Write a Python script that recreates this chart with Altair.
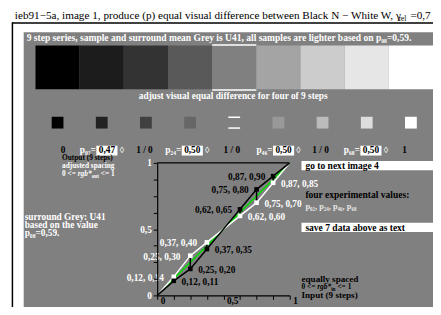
import altair as alt
import pandas as pd

SERIF = "Liberation Serif"

# ---- data ----
steps_in = [0, 0.125, 0.25, 0.375, 0.5, 0.625, 0.75, 0.875, 1]
out_black = [0, 0.11, 0.20, 0.35, 0.5, 0.65, 0.80, 0.90, 1]
out_white = [0, 0.14, 0.30, 0.40, 0.5, 0.60, 0.70, 0.85, 1]
black_labels = ["", "0,12, 0,11", "0,25, 0,20", "0,37, 0,35", "", "0,62, 0,65", "0,75, 0,80", "0,87, 0,90", ""]
white_labels = ["", "0,12, 0,14", "0,25, 0,30", "0,37, 0,40", "", "0,62, 0,60", "0,75, 0,70", "0,87, 0,85", ""]
swatch_grey = [0, 28, 51, 89, 128, 164, 204, 230, 255]
square_grey = [0, 34, 64, 102, 128, 153, 187, 221, 255]
p_names = ["p₀₂=", "p₂₄=", "p₄₆=", "p₆₈="]
p_values = ["0,47", "0,50", "0,50", "0,50"]
axis_ticks = [0, 0.125, 0.25, 0.375, 0.5, 0.625, 0.75, 0.875, 1]

# ---- layout (page pixel coordinates, page margin 8px) ----
W, H = 433, 299
OX, OY = 8, 8
BG = "#808080"
GREEN = "#00dd00"


def px(X):
    return X - OX


def py(Y):
    return Y - OY


one = pd.DataFrame({"k": [0]})


def grey(v):
    return "#{0:02x}{0:02x}{0:02x}".format(v)


def rect(x1, y1, x2, y2, color):
    return alt.Chart(one).mark_rect(color=color).encode(
        x=alt.value(px(x1)), x2=alt.value(px(x2)), y=alt.value(py(y1)), y2=alt.value(py(y2)))


def hrule(x1, x2, y, color, w=1.0):
    return alt.Chart(one).mark_rule(color=color, strokeWidth=w).encode(
        x=alt.value(px(x1)), x2=alt.value(px(x2)), y=alt.value(py(y)))


def vrule(x, y1, y2, color, w=1.0):
    return alt.Chart(one).mark_rule(color=color, strokeWidth=w).encode(
        x=alt.value(px(x)), y=alt.value(py(y1)), y2=alt.value(py(y2)))


def text(s, x, y, color="white", size=10, align="left", weight="bold", style="normal", baseline="middle"):
    return alt.Chart(one).mark_text(
        text=s, align=align, baseline=baseline, font=SERIF, fontSize=size,
        fontWeight=weight, fontStyle=style, color=color).encode(
        x=alt.value(px(x)), y=alt.value(py(y)))


def rgb_line(x0, y, color, f, sub, sub_w):
    sp = 0.25 * f
    w0 = 1.89 * f
    xr = x0 + w0 + sp
    xs_ = xr + 1.89 * f
    xe = xs_ + sub_w * f + sp
    return [text("0 <=", x0, y, color, f),
            text("rgb*", xr, y, color, f, style="italic"),
            text(sub, xs_, y + 2, color, 0.72 * f),
            text("<= 1", xe, y, color, f)]


layers = []
# frame
layers.append(rect(8, 8, 441, 315, "white"))
layers.append(vrule(12.5, 20, 315, "black", 1.5))
layers.append(hrule(12, 441, 20.5, "black", 1.5))
layers.append(rect(24, 30, 441, 310, BG))

# title
layers.append(text("ieb91−5a, image 1, produce (p) equal visual difference between Black N − White W, γ",
                   15, 16.5, "black", 11.4, weight="normal", baseline="alphabetic"))
layers.append(text("rel", 406, 18.5, "black", 7.5, weight="normal", baseline="alphabetic"))
layers.append(text("=0,7", 418, 16.5, "black", 11.4, weight="normal", baseline="alphabetic"))

layers.append(text("9 step series, sample and surround mean Grey is U41, all samples are lighter based on p₀₈=0,59.",
                   27, 35.5, size=9.7))

# big swatches
for i, g in enumerate(swatch_grey):
    layers.append(rect(36 + 45 * i, 43.5, 81 + 45 * i, 88, grey(g)))
layers.append(hrule(216, 261, 42.8, "white", 1.5))
layers.append(hrule(216, 261, 88.8, "white", 1.5))

layers.append(text("adjust visual equal difference for four of 9 steps", 237.5, 94.5, size=9.5, align="center"))

# small squares
for i, g in enumerate(square_grey):
    c = 58.5 + 45 * i
    if i == 4:
        layers.append(hrule(c - 6, c + 6, 116.5, "white", 1.5))
        layers.append(hrule(c - 6, c + 6, 127.5, "white", 1.5))
    else:
        layers.append(rect(c - 6, 116, c + 6, 128, grey(g)))

# control row
ROW = 150
layers.append(text("0", 64, ROW, "black", 9.5, align="center"))
for name, val, bx in zip(p_names, p_values, [98, 185, 278, 367]):
    layers.append(text(name, bx - 0.5, ROW, "white", 9.5, align="right"))
    layers.append(rect(bx, 145.5, bx + 21.5, 155.5, "white"))
    layers.append(text(val, bx + 10.75, ROW, "black", 9.5, align="center"))
    layers.append(text("◊", bx + 26, ROW, "white", 9, align="center", weight="normal"))
for c in [147, 236, 326.5]:
    layers.append(text("1 / 0", c, ROW, "black", 9.5, align="center"))
layers.append(text("1", 412, ROW, "black", 9.5, align="center"))

# left block
layers.append(text("Output (9 steps)", 63, 158, "black", 7.5))
layers.append(text("adjusted spacing", 63, 166, size=7.5))
layers += rgb_line(63, 174, "white", 7.5, "out", 1.0)
layers.append(text("surround Grey: U41", 25, 218.5, size=9.5))
layers.append(text("based on the value", 25, 226.5, size=9.5))
layers.append(text("p₀₈=0,59.", 25, 234.5, size=9.5))

# right block
layers.append(rect(307, 161, 441, 170.5, "white"))
layers.append(text("go to next image 4", 311, 166, "black", 9.7))
layers.append(text("four experimental values:", 311, 196, "black", 9.7))
layers.append(text("p₀₂, p₂₄, p₄₆, p₆₈", 311, 207, "#e8e8e8", 8.5))
layers.append(rect(307, 224, 441, 233.5, "white"))
layers.append(text("save 7 data above as text", 311, 229, "black", 9.7))
layers.append(text("equally spaced", 307, 281, "black", 9.3))
layers += rgb_line(307, 289.5, "black", 7.5, "in", 0.6)
layers.append(text("Input (9 steps)", 307, 297.5, "black", 9.3))

# ---- the graph ----
df = pd.DataFrame({"inp": steps_in, "black": out_black, "white": out_white,
                   "bl": black_labels, "wl": white_labels})
xs = alt.Scale(domain=[0, 1], range=[px(160), px(295)], nice=False, zero=False)
ys = alt.Scale(domain=[0, 1], range=[py(298), py(163)], nice=False, zero=False)

lab_x = "datum.value == 0 ? '0' : datum.value == 0.5 ? '0,5' : datum.value == 1 ? '1' : ''"
xaxis = alt.Axis(values=axis_ticks, offset=-(H - py(298)), domainColor="black", domainWidth=1.2,
                 tickColor="black", tickWidth=1, tickSize=4, labelExpr=lab_x, labelAlign="left",
                 labelBaseline="middle", labelOffset=3, labelPadding=1, labelFont=SERIF,
                 labelFontSize=9.5, labelFontWeight="bold", labelColor="black", title=None,
                 grid=False, labelOverlap=False, labelBound=False, labelFlush=False, zindex=1)
yaxis = alt.Axis(values=axis_ticks, offset=-px(160), domainColor="black", domainWidth=1.2,
                 tickColor="black", tickWidth=1, tickSize=4, labelExpr=lab_x, labelAlign="right",
                 labelBaseline="middle", labelPadding=2, labelFont=SERIF, labelFontSize=9.5,
                 labelFontWeight="bold", labelColor="white", title=None, grid=False,
                 labelOverlap=False, labelBound=False, labelFlush=False, zindex=1)

base = alt.Chart(df)
layers.append(hrule(160, 295, 163, "black", 1.2))
layers.append(base.mark_line(color=GREEN, strokeWidth=1.5).encode(
    x=alt.X("inp:Q", scale=xs, axis=xaxis), y=alt.Y("inp:Q", scale=ys, axis=yaxis)))
layers.append(base.mark_line(color="white", strokeWidth=1.5).encode(
    x=alt.X("inp:Q", scale=xs, axis=None), y=alt.Y("white:Q", scale=ys, axis=None)))
layers.append(base.mark_line(color="black", strokeWidth=1.5).encode(
    x=alt.X("inp:Q", scale=xs, axis=None), y=alt.Y("black:Q", scale=ys, axis=None)))
layers.append(base.mark_rule(color="black", strokeWidth=1.5).encode(
    x=alt.X("inp:Q", scale=xs, axis=None), y=alt.Y("black:Q", scale=ys, axis=None), y2="white:Q"))
pts = base.transform_filter("datum.inp > 0 && datum.inp < 1 && datum.inp != 0.5")
layers.append(pts.mark_square(size=22, color="white", opacity=1).encode(
    x=alt.X("inp:Q", scale=xs, axis=None), y=alt.Y("white:Q", scale=ys, axis=None)))
layers.append(pts.mark_square(size=22, color="black", opacity=1).encode(
    x=alt.X("inp:Q", scale=xs, axis=None), y=alt.Y("black:Q", scale=ys, axis=None)))

low = base.transform_filter("datum.inp > 0 && datum.inp < 0.5")
high = base.transform_filter("datum.inp > 0.5 && datum.inp < 1")
lab = dict(font=SERIF, fontSize=9.5, fontWeight="bold", baseline="middle")
layers.append(low.mark_text(align="left", dx=8, dy=1, color="black", **lab).encode(
    x=alt.X("inp:Q", scale=xs, axis=None), y=alt.Y("black:Q", scale=ys, axis=None), text="bl:N"))
layers.append(high.mark_text(align="right", dx=-8, dy=1, color="black", **lab).encode(
    x=alt.X("inp:Q", scale=xs, axis=None), y=alt.Y("black:Q", scale=ys, axis=None), text="bl:N"))
layers.append(low.mark_text(align="right", dx=-10, dy=1, color="white", **lab).encode(
    x=alt.X("inp:Q", scale=xs, axis=None), y=alt.Y("white:Q", scale=ys, axis=None), text="wl:N"))
layers.append(high.mark_text(align="left", dx=8, dy=1, color="white", **lab).encode(
    x=alt.X("inp:Q", scale=xs, axis=None), y=alt.Y("white:Q", scale=ys, axis=None), text="wl:N"))

chart = alt.layer(*layers).resolve_scale(x="independent", y="independent").properties(
    width=W, height=H, autosize=alt.AutoSizeParams(type="none"), padding=0,
    background="white").configure_view(stroke=None)

chart.save("out.html", embed_options={"renderer": "svg", "actions": False})
